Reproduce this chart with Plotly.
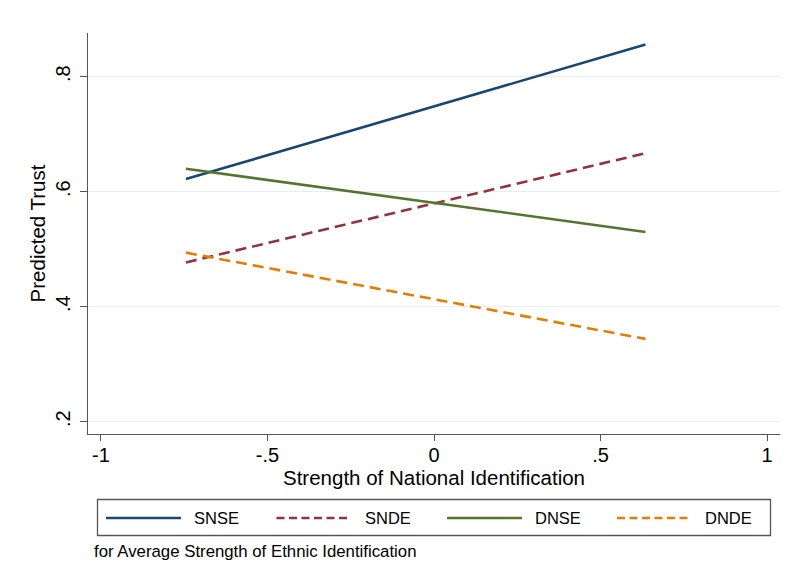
import plotly.graph_objects as go

# ---- data ----
x_vals = [-0.745, 0.635]
series_names = ["SNSE", "SNDE", "DNSE", "DNDE"]
snse = [0.622, 0.856]
snde = [0.477, 0.667]
dnse = [0.640, 0.530]
dnde = [0.494, 0.344]
series_values = [snse, snde, dnse, dnde]
x_ticks = [-1, -0.5, 0, 0.5, 1]
x_ticklabels = ["-1", "-.5", "0", ".5", "1"]
y_ticks = [0.2, 0.4, 0.6, 0.8]
y_ticklabels = [".2", ".4", ".6", ".8"]

colors = ["#1a476f", "#90353b", "#55752f", "#e37e00"]
dashes = ["solid", "11px,6px", "solid", "11px,6px"]
legend_dashes = ["solid", "8px,4.5px", "solid", "8px,4.5px"]

FONT = "Liberation Sans, Arial, Helvetica, sans-serif"

W, H = 785, 584
L, R, T, B = 88, 5, 33, 150
PW = W - L - R
PH = H - T - B


def px(x):
    return (x - L) / PW


def py(y):
    return (H - B - y) / PH


fig = go.Figure()
for name, vals, c, d in zip(series_names, series_values, colors, dashes):
    fig.add_trace(go.Scatter(x=x_vals, y=vals, mode="lines", name=name,
                             line=dict(color=c, width=2.6, dash=d),
                             showlegend=False))

shapes = []
annotations = []
# legend box
shapes.append(dict(type="rect", xref="paper", yref="paper",
                   x0=px(97.5), x1=px(770.5), y0=py(535.5), y1=py(499.5),
                   line=dict(color="#555555", width=1.3), fillcolor="white"))
starts = [106, 276.5, 447, 617]
for s, name, c, d in zip(starts, series_names, colors, legend_dashes):
    shapes.append(dict(type="line", xref="paper", yref="paper",
                       x0=px(s), x1=px(s + 75), y0=py(518), y1=py(518),
                       line=dict(color=c, width=2.6, dash=d)))
    annotations.append(dict(text=name, xref="paper", yref="paper",
                            x=px(s + 86), y=py(518), xanchor="left", yanchor="middle",
                            showarrow=False, font=dict(family=FONT, size=16.5, color="black")))
annotations.append(dict(text="for Average Strength of Ethnic Identification",
                        xref="paper", yref="paper", x=px(92), y=py(551),
                        xanchor="left", yanchor="middle", showarrow=False,
                        font=dict(family=FONT, size=16.8, color="black")))
# x-axis title
annotations.append(dict(text="Strength of National Identification",
                        xref="paper", yref="paper", x=px(434), y=py(477.5),
                        xanchor="center", yanchor="middle", showarrow=False,
                        font=dict(family=FONT, size=20.5, color="black")))

fig.update_layout(
    width=W, height=H,
    margin=dict(l=L, r=R, t=T, b=B, pad=0),
    paper_bgcolor="white", plot_bgcolor="white",
    font=dict(family=FONT, size=20, color="black"),
    shapes=shapes, annotations=annotations,
    xaxis=dict(range=[-1.039, 1.039], tickvals=x_ticks, ticktext=x_ticklabels,
               showgrid=False, zeroline=False, showline=True,
               linecolor="#555555", linewidth=1.3,
               ticks="outside", ticklen=6, tickwidth=1.3, tickcolor="#555555",
               tickfont=dict(size=20), ticklabelstandoff=-3),
    yaxis=dict(range=[0.1786, 0.876], tickvals=y_ticks, ticktext=y_ticklabels,
               showgrid=True, gridcolor="#e6eef1", gridwidth=1,
               zeroline=False, showline=True,
               linecolor="#555555", linewidth=1.3,
               ticks="outside", ticklen=7, tickwidth=1.3, tickcolor="#555555",
               tickangle=-90, tickfont=dict(size=20), ticklabelstandoff=2,
               title=dict(text="Predicted Trust", font=dict(size=20.5), standoff=0)),
)

fig.write_html("out.html")
